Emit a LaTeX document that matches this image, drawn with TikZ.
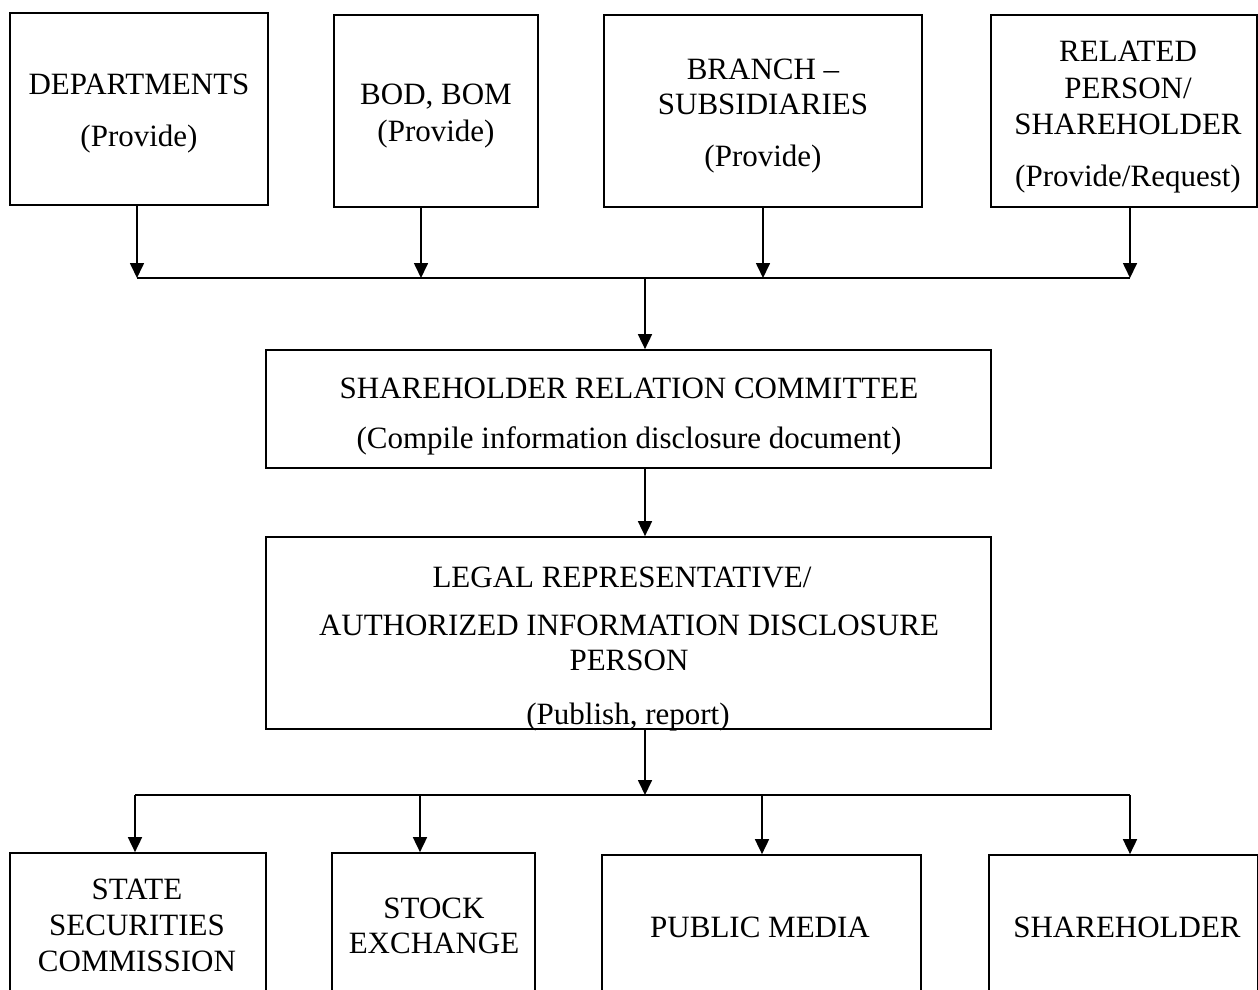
\documentclass[tikz,border=0pt]{standalone}
\usepackage{fontspec}
\setmainfont{Liberation Serif}
\usetikzlibrary{arrows.meta}
\begin{document}
\begin{tikzpicture}[x=1pt,y=-1pt,
  box/.style={draw,line width=1.7pt,inner sep=0pt,fill=none},
  txt/.style={font=\fontsize{31}{36}\selectfont,anchor=base,inner sep=0pt},
  ln/.style={line width=1.7pt},
  arr/.style={line width=1.7pt,-{Triangle[length=15pt,width=14pt]}}]
\useasboundingbox (0,0) rectangle (1258,990);
\clip (0,0) rectangle (1258,990);
% top boxes
\node[box,minimum width=258pt,minimum height=192pt] (dep) at (139,109) {};
\node[box,minimum width=204pt,minimum height=192pt] (bod) at (436,111) {};
\node[box,minimum width=318pt,minimum height=192pt] (br) at (763,111) {};
\node[box,minimum width=266pt,minimum height=192pt] (rel) at (1124,111) {};
% middle boxes
\node[box,minimum width=725pt,minimum height=118pt] (src) at (628.5,409) {};
\node[box,minimum width=725pt,minimum height=192pt] (leg) at (628.5,633) {};
% bottom boxes
\node[box,minimum width=256pt,minimum height=180pt] (ssc) at (138,943) {};
\node[box,minimum width=203pt,minimum height=180pt] (stk) at (433.5,943) {};
\node[box,minimum width=319pt,minimum height=176pt] (pub) at (761.5,943) {};
\node[box,minimum width=269pt,minimum height=176pt] (sh) at (1123.5,943) {};
% texts
\node[txt] (t1a) at (139,95) {DEPARTMENTS};
\node[txt] (t1b) at (139,146) {(Provide)};
\node[txt] (t2a) at (436,104) {BOD, BOM};
\node[txt] (t2b) at (436,141) {(Provide)};
\node[txt] (t3a) at (763,79) {BRANCH –};
\node[txt] (t3b) at (763,114) {SUBSIDIARIES};
\node[txt] (t3c) at (763,166) {(Provide)};
\node[txt] (t4a) at (1128,62) {RELATED};
\node[txt] (t4b) at (1128,98) {PERSON/};
\node[txt] (t4c) at (1128,134) {SHAREHOLDER};
\node[txt] (t4d) at (1128,186) {(Provide/Request)};
\node[txt] (t5a) at (629,398) {SHAREHOLDER RELATION COMMITTEE};
\node[txt] (t5b) at (629,448) {(Compile information disclosure document)};
\node[txt] (t6a) at (622,587) {LEGAL REPRESENTATIVE/};
\node[txt] (t6b) at (629,635) {AUTHORIZED INFORMATION DISCLOSURE};
\node[txt] (t6c) at (629,670) {PERSON};
\node[txt] (t6d) at (628,724) {(Publish, report)};
\node[txt] (t7a) at (137,899) {STATE};
\node[txt] (t7b) at (137,935) {SECURITIES};
\node[txt] (t7c) at (137,971) {COMMISSION};
\node[txt] (t8a) at (434,918) {STOCK};
\node[txt] (t8b) at (434,953) {EXCHANGE};
\node[txt] (t9) at (760,937) {PUBLIC MEDIA};
\node[txt] (t10) at (1127,937) {SHAREHOLDER};
% top bus
\coordinate (a1) at (137,278);
\coordinate (a2) at (421,278);
\coordinate (a3) at (763,278);
\coordinate (a4) at (1130,278);
\coordinate (bus1) at (645,278);
\draw[ln] (a1) -- (a4);
\draw[arr] (dep.south -| a1) -- (a1);
\draw[arr] (bod.south -| a2) -- (a2);
\draw[arr] (br.south -| a3) -- (a3);
\draw[arr] (rel.south -| a4) -- (a4);
\draw[arr] (bus1) -- (bus1 |- src.north);
\draw[arr] (src.south -| bus1) -- (bus1 |- leg.north);
% bottom bus
\coordinate (c1) at (135,795);
\coordinate (c2) at (420,795);
\coordinate (c3) at (762,795);
\coordinate (c4) at (1130,795);
\coordinate (bus2) at (645,795);
\draw[arr] (leg.south -| bus2) -- (bus2);
\draw[ln] (c1) -- (c4);
\draw[arr] (c1) -- (c1 |- ssc.north);
\draw[arr] (c2) -- (c2 |- stk.north);
\draw[arr] (c3) -- (c3 |- pub.north);
\draw[arr] (c4) -- (c4 |- sh.north);
\end{tikzpicture}
\end{document}
